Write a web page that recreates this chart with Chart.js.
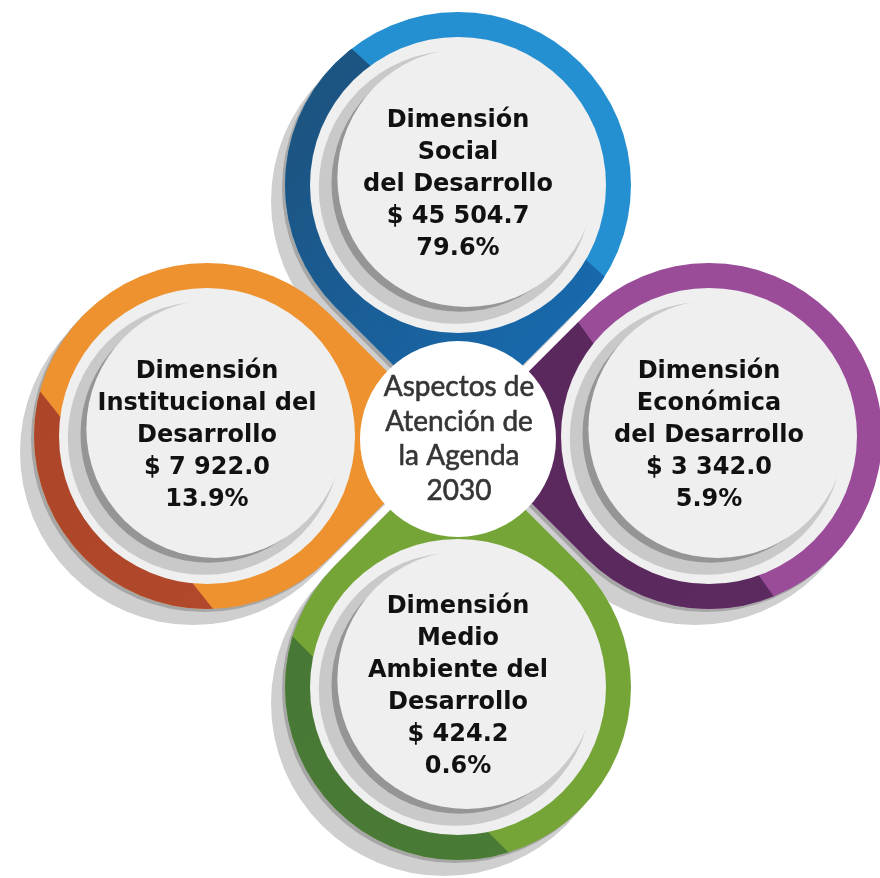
<!DOCTYPE html>
<html>
<head>
<meta charset="utf-8">
<script src="https://cdn.jsdelivr.net/npm/chart.js@4.4.1/dist/chart.umd.min.js"></script>
<style>
  html, body { margin: 0; padding: 0; background: #ffffff; }
  canvas { display: block; }
</style>
</head>
<body>
<canvas id="agendaChart" width="880" height="878"></canvas>
<script>
// Data (clockwise from the top)
const dimensionLabels = [
    ['Dimensión', 'Social', 'del Desarrollo'],
    ['Dimensión', 'Económica', 'del Desarrollo'],
    ['Dimensión', 'Medio', 'Ambiente del', 'Desarrollo'],
    ['Dimensión', 'Institucional del', 'Desarrollo']
];
const amounts = [45504.7, 3342.0, 424.2, 7922.0];
const shares = [79.6, 5.9, 0.6, 13.9];
const centerTitle = ['Aspectos de', 'Atención de', 'la Agenda', '2030'];

// Look
const ringLight = ['#2590d1', '#9a4c99', '#75a537', '#ee922f'];
const ringDark = [['#1c5482', '#1769ad'], ['#5a285c', '#5b2a5e'], ['#487835', '#4a7b36'], ['#ad452a', '#b2492b']];
const darkArc = [[32, 232], [68, 221], [73, 197], [88, 195]];

const SLOT_DIST = 251;
const OUTER_R = 173;
const INNER_R = 148;
const HUB_R = 98;

function formatAmount(v) {
    const parts = v.toFixed(1).split('.');
    return '$ ' + parts[0].replace(/\B(?=(\d{3})+(?!\d))/g, ' ') + '.' + parts[1];
}

// one slot per dimension, spread round the hub
const points = amounts.map((v, i) => {
    const a = (-90 + 90 * i) * Math.PI / 180;
    return { x: SLOT_DIST * Math.cos(a), y: SLOT_DIST * Math.sin(a) };
});

function teardrop(ctx, cx, cy, R, tipAng) {
    const k = R * Math.SQRT2;
    ctx.beginPath();
    ctx.moveTo(cx + k * Math.cos(tipAng), cy + k * Math.sin(tipAng));
    ctx.arc(cx, cy, R, tipAng + Math.PI / 4, tipAng + 7 * Math.PI / 4, false);
    ctx.closePath();
}

function clipDarkSide(ctx, cx, cy, R, a1, a2) {
    const rad = d => d * Math.PI / 180;
    const p1 = { x: cx + R * Math.cos(rad(a1)), y: cy + R * Math.sin(rad(a1)) };
    const p2 = { x: cx + R * Math.cos(rad(a2)), y: cy + R * Math.sin(rad(a2)) };
    let ux = p2.x - p1.x, uy = p2.y - p1.y;
    const len = Math.hypot(ux, uy);
    ux /= len; uy /= len;
    const am = rad((a1 + a2) / 2);
    const mx = cx + R * Math.cos(am), my = cy + R * Math.sin(am);
    let nx = -uy, ny = ux;
    if ((mx - p1.x) * nx + (my - p1.y) * ny < 0) { nx = -nx; ny = -ny; }
    const big = 2000;
    ctx.beginPath();
    ctx.moveTo(p1.x - big * ux, p1.y - big * uy);
    ctx.lineTo(p2.x + big * ux, p2.y + big * uy);
    ctx.lineTo(p2.x + big * ux + big * nx, p2.y + big * uy + big * ny);
    ctx.lineTo(p1.x - big * ux + big * nx, p1.y - big * uy + big * ny);
    ctx.closePath();
    ctx.clip();
}

// circle through the axis point (edge,0) and the tip point, centre on the axis
function crescentCircle(edge, tipDeg, tipR) {
    const c = Math.cos(tipDeg * Math.PI / 180);
    const d = (edge * edge - tipR * tipR) / (2 * (edge - tipR * c));
    return { d: d, r: edge - d };
}

const ringPlugin = {
    id: 'rings',
    beforeDatasetsDraw(chart) {
        const ctx = chart.ctx;
        const ox = chart.scales.x.getPixelForValue(0);
        const oy = chart.scales.y.getPixelForValue(0);
        const els = chart.getDatasetMeta(0).data;
        // drop shadows
        els.forEach(el => {
            const tip = Math.atan2(oy - el.y, ox - el.x);
            ctx.fillStyle = '#cfcfcf';
            teardrop(ctx, el.x - 14, el.y + 16, OUTER_R, tip);
            ctx.fill();
        });
        els.forEach(el => {
            const tip = Math.atan2(oy - el.y, ox - el.x);
            ctx.fillStyle = '#a6a6a6';
            teardrop(ctx, el.x - 3, el.y + 3, OUTER_R, tip);
            ctx.fill();
        });
        // two-tone rings
        els.forEach((el, i) => {
            const tip = Math.atan2(oy - el.y, ox - el.x);
            ctx.fillStyle = ringLight[i];
            teardrop(ctx, el.x, el.y, OUTER_R, tip);
            ctx.fill();
            ctx.save();
            clipDarkSide(ctx, el.x, el.y, OUTER_R, darkArc[i][0], darkArc[i][1]);
            const g = ctx.createLinearGradient(el.x - OUTER_R, el.y - OUTER_R * 0.2, el.x + OUTER_R * 0.5, el.y + OUTER_R);
            g.addColorStop(0, ringDark[i][0]);
            g.addColorStop(1, ringDark[i][1]);
            ctx.fillStyle = g;
            teardrop(ctx, el.x, el.y, OUTER_R, tip);
            ctx.fill();
            ctx.restore();
        });
    },
    afterDatasetsDraw(chart) {
        const ctx = chart.ctx;
        const ox = chart.scales.x.getPixelForValue(0);
        const oy = chart.scales.y.getPixelForValue(0);
        const els = chart.getDatasetMeta(0).data;
        const axis = 140 * Math.PI / 180;
        const ax = Math.cos(axis), ay = Math.sin(axis);
        const L = crescentCircle(140, 100, 136);
        const D = crescentCircle(126, 86, 128);
        const W = crescentCircle(118, 86, 128);
        els.forEach((el, i) => {
            ctx.save();
            ctx.beginPath();
            ctx.arc(el.x, el.y, INNER_R, 0, Math.PI * 2);
            ctx.clip();
            [[L, '#c9c9c9'], [D, '#959595'], [W, '#efefef']].forEach(([c, col]) => {
                ctx.fillStyle = col;
                ctx.beginPath();
                ctx.arc(el.x + c.d * ax, el.y + c.d * ay, c.r, 0, Math.PI * 2);
                ctx.fill();
            });
            ctx.restore();

            const lines = dimensionLabels[i].concat([formatAmount(amounts[i]), shares[i].toFixed(1) + '%']);
            const lh = 32;
            ctx.fillStyle = '#111111';
            ctx.font = 'bold 24px "DejaVu Sans"';
            ctx.textAlign = 'center';
            ctx.textBaseline = 'middle';
            lines.forEach((t, j) => {
                ctx.fillText(t, el.x, el.y + (j - (lines.length - 1) / 2) * lh);
            });
        });

        // hub
        ctx.fillStyle = '#ffffff';
        ctx.beginPath();
        ctx.arc(ox, oy + 3, HUB_R, 0, Math.PI * 2);
        ctx.fill();
        ctx.fillStyle = '#363636';
        ctx.strokeStyle = '#363636';
        ctx.lineWidth = 0.6;
        ctx.font = '28px Lato';
        ctx.textAlign = 'center';
        ctx.textBaseline = 'middle';
        centerTitle.forEach((t, j) => {
            const ty = oy + 3 + (j - (centerTitle.length - 1) / 2) * 34.5;
            ctx.fillText(t, ox + 1, ty);
            ctx.strokeText(t, ox + 1, ty);
        });
    }
};

const ctx = document.getElementById('agendaChart').getContext('2d');
new Chart(ctx, {
    type: 'scatter',
    data: {
        datasets: [{
            data: points,
            pointRadius: INNER_R,
            pointHoverRadius: INNER_R,
            backgroundColor: '#efefef',
            borderWidth: 0,
            clip: false
        }]
    },
    options: {
        responsive: false,
        animation: false,
        events: [],
        layout: { padding: 0, autoPadding: false },
        plugins: { legend: { display: false }, tooltip: { enabled: false } },
        scales: {
            x: { type: 'linear', min: -458, max: 422, display: false },
            y: { type: 'linear', min: -436, max: 442, reverse: true, display: false }
        }
    },
    plugins: [ringPlugin]
});
</script>
</body>
</html>
